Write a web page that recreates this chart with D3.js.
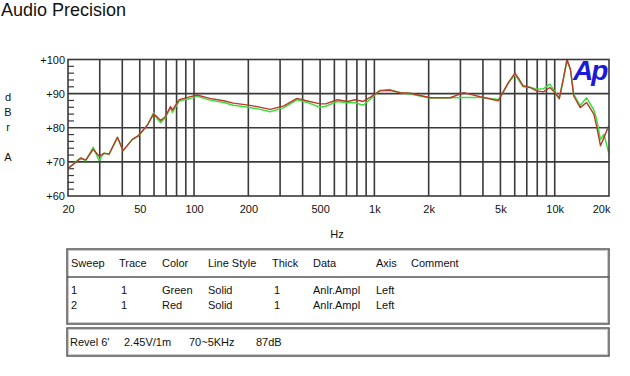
<!DOCTYPE html>
<html>
<head>
<meta charset="utf-8">
<script src="https://cdn.jsdelivr.net/npm/d3@7"></script>
<style>
  html, body { margin: 0; padding: 0; background: #fff; }
  svg { display: block; font-family: "Liberation Sans", Arial, sans-serif; }
</style>
</head>
<body>
<svg id="chart" width="630" height="376"></svg>
<script>
// ---------- data ----------
const freqs = [20, 23.5, 25.1, 27.6, 29.7, 31.7, 33.8, 37.6, 40.4, 45.5,
  49, 55.2, 59.6, 62.6, 65.3, 69.4, 74, 75.9, 82.7, 88,
  95.6, 104, 122, 146, 165, 196, 224, 264, 315, 372,
  420, 500, 537, 624, 711, 783, 866, 961, 1070, 1214,
  1390, 1581, 2040, 2630, 3130, 3860, 4880, 5090, 5530, 6010,
  6270, 6680, 7280, 7940, 8650, 9400, 10030, 10600, 11150, 11700,
  12230, 12750, 13850, 15010, 16480, 17070, 17940, 18750, 19900];

const greenDb = [68.0, 71.3, 70.3, 74.3, 70.4, 72.6, 72.2, 77.2, 73.3, 76.6,
  77.6, 80.8, 84.4, 82.5, 81.5, 83.0, 85.9, 84.5, 87.8, 88.2,
  88.6, 89.2, 88.1, 87.4, 86.6, 86.1, 85.6, 84.7, 85.9, 88.2,
  87.5, 86.0, 86.3, 87.7, 87.3, 87.3, 86.6, 88.6, 90.9, 91.2,
  90.3, 89.9, 88.7, 88.8, 88.9, 88.9, 88.3, 89.8, 93.0, 95.6,
  94.2, 92.0, 91.9, 91.3, 91.4, 92.8, 90.6, 88.8, 94.0, 99.8,
  97.0, 89.8, 86.5, 88.8, 85.2, 82.5, 76.5, 78.1, 72.7];

const redDb = [68.1, 71.0, 70.6, 73.7, 71.7, 72.5, 72.3, 77.2, 73.3, 76.6,
  77.6, 80.8, 84.0, 83.1, 82.1, 83.3, 86.2, 85.2, 88.2, 88.6,
  89.1, 89.6, 88.6, 87.9, 87.2, 86.7, 86.2, 85.4, 86.4, 88.6,
  87.9, 87.0, 87.0, 88.2, 87.7, 88.2, 87.7, 89.1, 90.8, 91.0,
  90.3, 90.1, 88.8, 88.8, 90.3, 89.1, 87.9, 89.8, 93.2, 96.0,
  94.7, 92.3, 91.8, 90.8, 90.5, 91.8, 90.3, 88.5, 94.2, 100.0,
  97.1, 89.3, 85.9, 87.4, 84.0, 80.5, 74.7, 77.1, 80.5];

const xTickValues = [20, 50, 100, 200, 500, 1000, 2000, 5000, 10000, 20000];
const xTickLabels = ["20", "50", "100", "200", "500", "1k", "2k", "5k", "10k", "20k"];
const yTickValues = [60, 70, 80, 90, 100];
const yTickLabels = ["+60", "+70", "+80", "+90", "+100"];
const yTitleLetters = ["d", "B", "r", "A"];

const tableHeader = ["Sweep", "Trace", "Color", "Line Style", "Thick", "Data", "Axis", "Comment"];
const tableRows = [
  ["1", "1", "Green", "Solid", "1", "Anlr.Ampl", "Left", ""],
  ["2", "1", "Red", "Solid", "1", "Anlr.Ampl", "Left", ""]
];
const noteItems = ["Revel 6'", "2.45V/1m", "70~5KHz", "87dB"];

// ---------- layout ----------
const svg = d3.select("#chart");
const L = 68, R = 609, T = 59.5, B = 196;
const x = d3.scaleLog().domain([20, 20000]).range([L, R]);
const y = d3.scaleLinear().domain([60, 100]).range([B, T]);
const gridColor = "#3a3a3a";

// title
svg.append("text").attr("x", 1).attr("y", 16)
  .attr("font-size", 18).attr("fill", "#111").text("Audio Precision");

// plot background
svg.append("rect").attr("x", L).attr("y", T).attr("width", R - L).attr("height", B - T)
  .attr("fill", "#fff");

// vertical grid lines: every 1..9 x decade
const vGrid = [];
for (let dec = 10; dec <= 10000; dec *= 10) {
  for (let m = 1; m <= 9; m++) {
    const f = dec * m;
    if (f > 20 && f < 20000) vGrid.push(f);
  }
}
svg.append("g").selectAll("line").data(vGrid).join("line")
  .attr("x1", d => x(d)).attr("x2", d => x(d))
  .attr("y1", T).attr("y2", B)
  .attr("stroke", gridColor).attr("stroke-width", 1.6);

// horizontal grid
svg.append("g").selectAll("line").data([70, 80, 90]).join("line")
  .attr("x1", L).attr("x2", R)
  .attr("y1", d => y(d)).attr("y2", d => y(d))
  .attr("stroke", gridColor).attr("stroke-width", 1.6);

// minor left ticks every 2 dB
const minor = d3.range(62, 100, 2).filter(d => d % 10 !== 0);
svg.append("g").selectAll("line").data(minor).join("line")
  .attr("x1", L).attr("x2", L + 6)
  .attr("y1", d => y(d)).attr("y2", d => y(d))
  .attr("stroke", gridColor).attr("stroke-width", 1.2);

// curves
const clip = svg.append("clipPath").attr("id", "pc").append("rect")
  .attr("x", L).attr("y", T - 1).attr("width", R - L + 1).attr("height", B - T + 2);
const line = d3.line().x(d => x(d[0])).y(d => y(d[1]));
const plotG = svg.append("g").attr("clip-path", "url(#pc)");
plotG.append("path").datum(freqs.map((f, i) => [f, greenDb[i]]))
  .attr("d", line).attr("fill", "none").attr("stroke", "#3ee03e").attr("stroke-width", 1.5)
  .attr("stroke-linejoin", "round");
plotG.append("path").datum(freqs.map((f, i) => [f, redDb[i]]))
  .attr("d", line).attr("fill", "none").attr("stroke", "#b83a2a").attr("stroke-width", 1.4)
  .attr("stroke-linejoin", "round");

// border
svg.append("rect").attr("x", L).attr("y", T).attr("width", R - L).attr("height", B - T)
  .attr("fill", "none").attr("stroke", gridColor).attr("stroke-width", 1.6);

// Ap logo
svg.append("text").attr("x", 573).attr("y", 80)
  .attr("font-size", 28).attr("font-weight", "bold").attr("font-style", "italic")
  .attr("letter-spacing", -2).attr("fill", "#1a1ad8").text("Ap");

// axes
const xAxis = d3.axisBottom(x).tickValues(xTickValues)
  .tickFormat((d, i) => xTickLabels[i]).tickSize(0).tickPadding(0);
const xg = svg.append("g").attr("transform", `translate(0,${B + 9})`).call(xAxis);
xg.select(".domain").remove();
xg.selectAll("text").attr("font-size", 11).attr("fill", "#111")
  .attr("font-family", "Liberation Sans, Arial, sans-serif");
xg.selectAll(".tick").filter(d => d === 20000).select("text")
  .attr("text-anchor", "end").attr("dx", 1);

const yAxis = d3.axisLeft(y).tickValues(yTickValues)
  .tickFormat((d, i) => yTickLabels[i]).tickSize(0).tickPadding(3);
const yg = svg.append("g").attr("transform", `translate(${L},0)`).call(yAxis);
yg.select(".domain").remove();
yg.selectAll("text").attr("font-size", 11).attr("fill", "#111")
  .attr("font-family", "Liberation Sans, Arial, sans-serif");

// axis titles
svg.append("text").attr("x", 337).attr("y", 238).attr("text-anchor", "middle")
  .attr("font-size", 11).attr("fill", "#111").text("Hz");
const yTitleY = [101, 116, 131, 161];
svg.append("g").selectAll("text").data(yTitleLetters).join("text")
  .attr("x", 8).attr("y", (d, i) => yTitleY[i]).attr("text-anchor", "middle")
  .attr("font-size", 11).attr("fill", "#111").text(d => d);

// table
const tb = { x: 67, y: 249, w: 542, h: 75, sep: 277 };
function groove(g, xx, yy, w, h) {
  g.append("rect").attr("x", xx).attr("y", yy).attr("width", w).attr("height", h)
    .attr("fill", "#fff").attr("stroke", "#555").attr("stroke-width", 1.5);
  g.append("rect").attr("x", xx + 1.5).attr("y", yy + 1.5).attr("width", w - 3).attr("height", h - 3)
    .attr("fill", "none").attr("stroke", "#c8c8c8").attr("stroke-width", 1);
}
const tg = svg.append("g");
groove(tg, tb.x, tb.y, tb.w, tb.h);
tg.append("line").attr("x1", tb.x).attr("x2", tb.x + tb.w).attr("y1", tb.sep).attr("y2", tb.sep)
  .attr("stroke", "#555").attr("stroke-width", 1.3);
const colX = [71, 119, 162, 208, 272, 313, 376, 411];
const rowColX = [71, 121, 162, 208, 274, 313, 376, 411];
tg.selectAll("text.h").data(tableHeader).join("text").attr("class", "h")
  .attr("x", (d, i) => colX[i]).attr("y", 267).attr("font-size", 11).attr("fill", "#111")
  .text(d => d);
const rowY = [294, 309];
tableRows.forEach((row, r) => {
  tg.append("g").selectAll("text").data(row).join("text")
    .attr("x", (d, i) => rowColX[i]).attr("y", rowY[r]).attr("font-size", 11).attr("fill", "#111")
    .text(d => d);
});

// note box
const ng = svg.append("g");
groove(ng, 67, 328, 542, 28);
const noteX = [70, 124, 189, 256];
ng.selectAll("text").data(noteItems).join("text")
  .attr("x", (d, i) => noteX[i]).attr("y", 346).attr("font-size", 11).attr("fill", "#111")
  .text(d => d);
</script>
</body>
</html>
